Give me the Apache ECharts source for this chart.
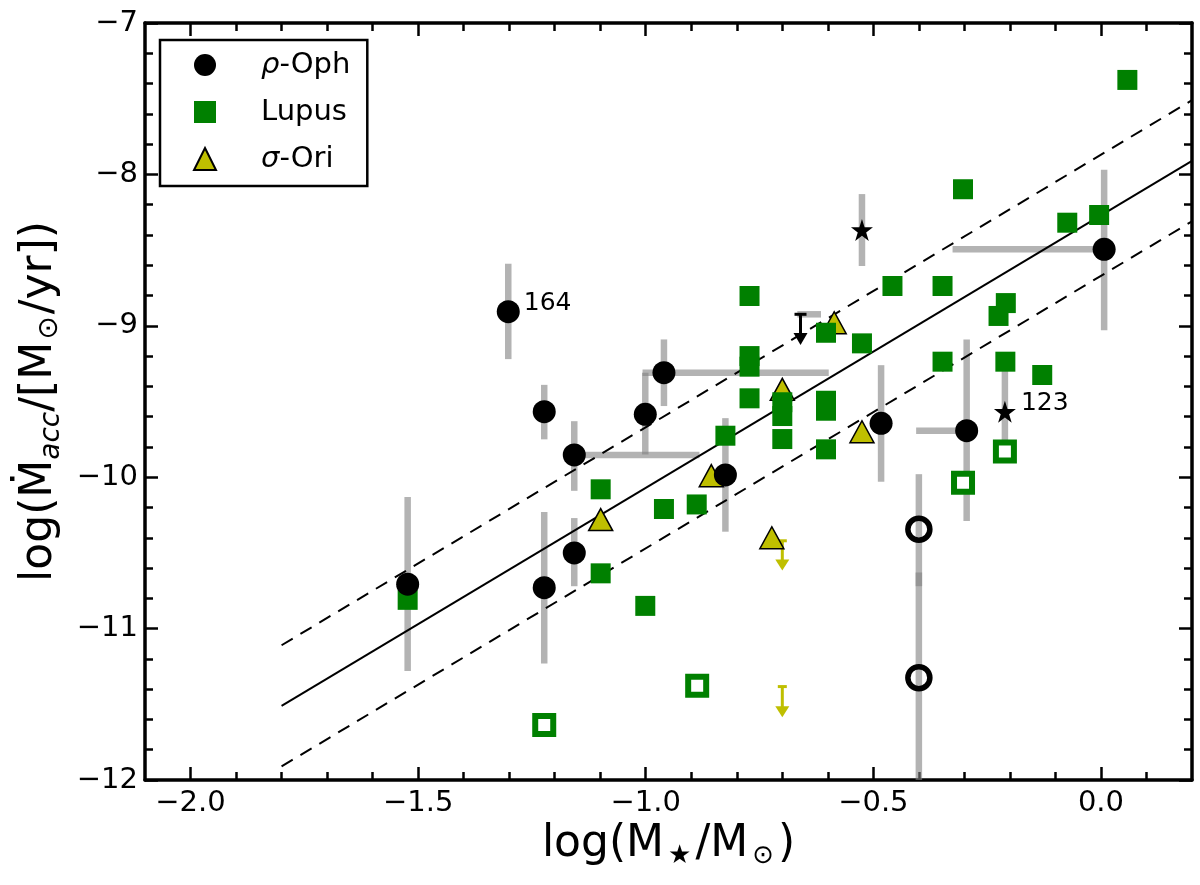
<!DOCTYPE html>
<html>
<head>
<meta charset="utf-8">
<script src="https://cdn.jsdelivr.net/npm/echarts@6/dist/echarts.min.js"></script>
<style>
html,body{margin:0;padding:0;background:#fff;}
#chart{width:1200px;height:885px;}
</style>
</head>
<body>
<div id="chart"></div>
<script>
// ---------- data ----------
const ophX = [-1.302, -1.223, -1.157, -1.001, -0.960, -1.523, -1.223, -1.157, -0.825, -0.483, -0.295, 0.007];
const ophY = [-8.907, -9.567, -9.853, -9.585, -9.310, -10.707, -10.730, -10.500, -9.985, -9.644, -9.693, -8.495];
const ophOpenX = [-0.400, -0.400];
const ophOpenY = [-10.344, -11.324];
const starX = [-0.525, -0.211];
const starY = [-8.367, -9.567];
const lupX = [-1.523, -1.099, -1.099, -0.960, -0.888, -1.001, -0.825, -0.772, -0.772, -0.772, -0.772,
              -0.700, -0.700, -0.700, -0.604, -0.604, -0.604, -0.604, -0.525, -0.458, -0.348, -0.348,
              -0.303, -0.225, -0.209, -0.210, -0.129, -0.074, -0.004, 0.058];
const lupY = [-10.81, -10.08, -10.635, -10.21, -10.18, -10.85, -9.726, -8.803, -9.20, -9.27, -9.479,
              -9.505, -9.596, -9.748, -9.046, -9.495, -9.561, -9.816, -9.116, -8.737, -8.737, -9.237,
              -8.098, -8.935, -8.85, -9.237, -9.325, -8.319, -8.268, -7.376];
const lupOpenX = [-1.223, -0.887, -0.303, -0.211];
const lupOpenY = [-11.637, -11.377, -10.036, -9.83];
const oriX = [-1.099, -0.856, -0.723, -0.700, -0.586, -0.525];
const oriY = [-10.28, -9.99, -10.40, -9.42, -8.98, -9.70];
// vertical error bars: [x, low, high]
const errV = [
  [-1.302, -9.22, -8.59], [-1.223, -9.75, -9.39], [-1.157, -10.09, -9.63], [-1.001, -9.85, -9.31],
  [-0.960, -9.53, -9.09], [-1.523, -11.28, -10.13], [-1.223, -11.23, -10.23], [-1.157, -10.72, -10.27],
  [-0.825, -10.36, -9.61], [-0.483, -10.03, -9.26], [-0.295, -10.29, -9.09], [0.007, -9.03, -7.97],
  [-0.400, -10.72, -9.98], [-0.400, -12.2, -10.63],
  [-0.525, -8.605, -8.13], [-0.211, -9.84, -9.26]
];
// horizontal error bars: [y, low, high]
const errH = [
  [-9.853, -1.157, -0.882], [-9.310, -1.007, -0.598], [-9.693, -0.406, -0.295],
  [-8.495, -0.326, 0.007], [-8.924, -0.667, -0.615]
];
// upper limits: [x, top, arrow tip]
const limBlack = [[-0.660, -8.924, -9.127]];
const limYellow = [[-0.700, -10.42, -10.617], [-0.700, -11.383, -11.586]];
// fit lines
const fitX = [-1.8, 0.2];
const fitY = [-11.51, -7.91];
const fitUpY = [-11.11, -7.51];
const fitLoY = [-11.91, -8.31];
// annotations
const ophLabels = {0: '164'};
const starLabels = {1: '123'};
// ticks
const xMajorTicks = [-2.0, -1.5, -1.0, -0.5, 0.0];
const xMinorTicks = [-1.9, -1.8, -1.7, -1.6, -1.4, -1.3, -1.2, -1.1, -0.9, -0.8, -0.7, -0.6, -0.4, -0.3, -0.2, -0.1, 0.1];
const xMin = -2.1, xMax = 0.2, yMin = -12, yMax = -7;

// ---------- helpers ----------
const FONT = 'DejaVu Sans';
const GRAY = 'rgba(128,128,128,0.6)';
const GREEN = '#008000';
const YELLOW = '#bfbf00';
const zip = (xs, ys) => xs.map((x, i) => [x, ys[i]]);
const minus = s => String(s).replace('-', '\u2212');

function vbar(params, api) {
  const a = api.coord([api.value(0), api.value(1)]);
  const b = api.coord([api.value(0), api.value(2)]);
  return {type: 'line', shape: {x1: a[0], y1: a[1], x2: b[0], y2: b[1]},
          style: {stroke: GRAY, lineWidth: 6.5}};
}
function hbar(params, api) {
  const a = api.coord([api.value(1), api.value(0)]);
  const b = api.coord([api.value(2), api.value(0)]);
  return {type: 'line', shape: {x1: a[0], y1: a[1], x2: b[0], y2: b[1]},
          style: {stroke: GRAY, lineWidth: 6.5}};
}
function arrowRender(color, capW, headW, headH, lw) {
  return function (params, api) {
    const t = api.coord([api.value(0), api.value(1)]);
    const b = api.coord([api.value(0), api.value(2)]);
    return {type: 'group', children: [
      {type: 'line', shape: {x1: t[0] - capW / 2, y1: t[1], x2: t[0] + capW / 2, y2: t[1]}, style: {stroke: color, lineWidth: lw}},
      {type: 'line', shape: {x1: t[0], y1: t[1], x2: b[0], y2: b[1] - headH + 1}, style: {stroke: color, lineWidth: lw}},
      {type: 'polygon', shape: {points: [[b[0] - headW / 2, b[1] - headH], [b[0] + headW / 2, b[1] - headH], [b[0], b[1]]]}, style: {fill: color}}
    ]};
  };
}
function labeled(points, labels, dx, dy) {
  return points.map((p, i) => labels[i] ? {value: p, label: {show: true, formatter: labels[i], position: 'right',
    distance: dx, offset: [0, dy], fontSize: 25, fontFamily: FONT, color: '#000'}} : p);
}

const STAR = 'path://M50,0 L61.2,34.5 L97.6,34.5 L68.2,55.9 L79.4,90.5 L50,69.1 L20.6,90.5 L31.8,55.9 L2.4,34.5 L38.8,34.5 Z';

const axisLineStyle = {show: true, onZero: false, lineStyle: {color: '#000', width: 3.5}};
function xAxisDef(pos, major, showLabel) {
  return {
    type: 'value', min: xMin, max: xMax, position: pos, gridIndex: 0,
    axisLine: major ? axisLineStyle : {show: false, onZero: false},
    splitLine: {show: false},
    axisTick: {show: true, inside: true, length: major ? 13 : 8, lineStyle: {color: '#000', width: 2.5},
               customValues: major ? xMajorTicks : xMinorTicks},
    axisLabel: showLabel ? {show: true, customValues: xMajorTicks, formatter: v => minus(v.toFixed(1)),
               fontSize: 29, fontFamily: FONT, color: '#000', margin: 9} : {show: false}
  };
}
function yAxisDef(pos, showLabel) {
  return {
    type: 'value', min: yMin, max: yMax, interval: 1, position: pos, gridIndex: 0,
    axisLine: axisLineStyle, splitLine: {show: false},
    axisTick: {show: true, inside: true, length: 13, lineStyle: {color: '#000', width: 2.5}},
    minorTick: {show: true, splitNumber: 5, length: 8, lineStyle: {color: '#000', width: 2.5}},
    minorSplitLine: {show: false},
    axisLabel: showLabel ? {show: true, formatter: v => minus(v), fontSize: 29, fontFamily: FONT, color: '#000', margin: 7} : {show: false}
  };
}

const xAxes = [xAxisDef('bottom', true, true), xAxisDef('bottom', false, false),
               xAxisDef('top', true, false), xAxisDef('top', false, false)];
xAxes[0].name = '{n|log(M}{s|\u2605}{n|/M}{s|\u2299}{n|)}';
xAxes[0].nameLocation = 'middle';
xAxes[0].nameGap = 38;
xAxes[0].nameTextStyle = {fontFamily: FONT, color: '#000', rich: {
  n: {fontSize: 44, fontFamily: FONT, color: '#000'},
  s: {fontSize: 26, fontFamily: FONT, color: '#000', padding: [22, 4, 0, 4]}
}};
const yAxes = [yAxisDef('left', true), yAxisDef('right', false)];
yAxes[0].name = '{n|log(\u1E40}{s|acc}{n|/[M}{t|\u2299}{n|/yr])}';
yAxes[0].nameLocation = 'middle';
yAxes[0].nameRotate = 90;
yAxes[0].nameGap = 78;
yAxes[0].nameTextStyle = {fontFamily: FONT, color: '#000', rich: {
  n: {fontSize: 44, fontFamily: FONT, color: '#000'},
  s: {fontSize: 28, fontFamily: FONT, fontStyle: 'italic', color: '#000', padding: [24, 0, 0, 0]},
  t: {fontSize: 28, fontFamily: FONT, color: '#000', padding: [20, 2, 0, 2]}
}};

const chart = echarts.init(document.getElementById('chart'), null, {renderer: 'canvas'});
chart.setOption({
  animation: false,
  backgroundColor: '#fff',
  grid: {left: 145, right: 8, top: 23, bottom: 105},
  xAxis: xAxes,
  yAxis: yAxes,
  legend: {
    orient: 'vertical', left: 160, top: 40, padding: [9, 17, 11, 33],
    itemWidth: 22, itemHeight: 22, itemGap: 15,
    borderColor: '#000', borderWidth: 2.5, backgroundColor: '#fff',
    data: [{name: '\u03C1-Oph', icon: 'circle'}, {name: 'Lupus', icon: 'rect'}, {name: '\u03C3-Ori', icon: 'triangle'}],
    formatter: name => {
      const first = name.charAt(0);
      if (first === '\u03C1' || first === '\u03C3') return '{g|}{i|' + first + '}{t|' + name.slice(1) + '}';
      return '{g|}{t|' + name + '}';
    },
    textStyle: {fontSize: 29, fontFamily: FONT, color: '#000', lineHeight: 32, rich: {
      g: {width: 40},
      i: {fontSize: 29, fontFamily: FONT, fontStyle: 'italic', color: '#000', lineHeight: 32},
      t: {fontSize: 29, fontFamily: FONT, color: '#000', lineHeight: 32}
    }}
  },
  series: [
    {type: 'custom', name: 'errV', renderItem: vbar, data: errV, encode: {x: 0, y: [1, 2]}, clip: true, z: 1, silent: true},
    {type: 'custom', name: 'errH', renderItem: hbar, data: errH, encode: {x: [1, 2], y: 0}, clip: true, z: 1, silent: true},
    {type: 'line', name: 'fit', data: zip(fitX, fitY), showSymbol: false, symbol: 'none', z: 2,
     lineStyle: {color: '#000', width: 2}, silent: true},
    {type: 'line', name: 'fitUp', data: zip(fitX, fitUpY), showSymbol: false, symbol: 'none', z: 2,
     lineStyle: {color: '#000', width: 2, type: [13, 9]}, silent: true},
    {type: 'line', name: 'fitLo', data: zip(fitX, fitLoY), showSymbol: false, symbol: 'none', z: 2,
     lineStyle: {color: '#000', width: 2, type: [13, 9]}, silent: true},
    {type: 'custom', name: 'limYellow', renderItem: arrowRender(YELLOW, 9, 14, 11, 3), data: limYellow,
     encode: {x: 0, y: [1, 2]}, z: 3, silent: true},
    {type: 'custom', name: 'limBlack', renderItem: arrowRender('#000', 12, 14, 12, 3), data: limBlack,
     encode: {x: 0, y: [1, 2]}, z: 3, silent: true},
    {type: 'scatter', name: '\u03C3-Ori', data: zip(oriX, oriY), symbol: 'triangle', symbolSize: [24, 22], z: 4,
     itemStyle: {color: YELLOW, borderColor: '#000', borderWidth: 1.5, opacity: 1}},
    {type: 'scatter', name: 'Lupus', data: zip(lupX, lupY), symbol: 'rect', symbolSize: 20, z: 5,
     itemStyle: {color: GREEN, opacity: 1}},
    {type: 'scatter', name: 'LupusOpen', data: zip(lupOpenX, lupOpenY), symbol: 'rect', symbolSize: 18, z: 5,
     itemStyle: {color: '#fff', borderColor: GREEN, borderWidth: 6, opacity: 1}},
    {type: 'scatter', name: '\u03C1-Oph', data: labeled(zip(ophX, ophY), ophLabels, 4, -8), symbol: 'circle', symbolSize: 23, z: 6,
     itemStyle: {color: '#000', opacity: 1}},
    {type: 'scatter', name: 'ophOpen', data: zip(ophOpenX, ophOpenY), symbol: 'circle', symbolSize: 22, z: 6,
     itemStyle: {color: 'rgba(0,0,0,0)', borderColor: '#000', borderWidth: 5.5, opacity: 1}},
    {type: 'scatter', name: 'stars', data: labeled(zip(starX, starY), starLabels, 5, -8), symbol: STAR, symbolSize: 22, z: 6,
     itemStyle: {color: '#000', opacity: 1}}
  ]
});
</script>
</body>
</html>
